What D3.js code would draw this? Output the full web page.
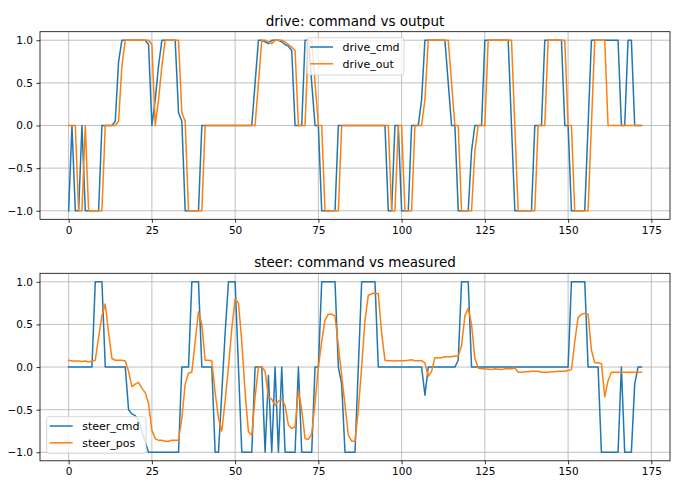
<!DOCTYPE html>
<html>
<head>
<meta charset="utf-8">
<script src="https://cdn.jsdelivr.net/npm/d3@7"></script>
<style>
  html, body { margin: 0; padding: 0; background: #fff; }
  svg { display: block; font-family: "DejaVu Sans", sans-serif; }
</style>
</head>
<body>
<svg id="chart" width="680" height="488"></svg>
<script>
// ---- data ----
const xTicks = [0, 25, 50, 75, 100, 125, 150, 175];
const yTicks = [-1, -0.5, 0, 0.5, 1];

const driveCmd = [
  -1, 0, -1, -1, 0, -1, -1, -1, -1, -1,
  0, 0, 0, 0, 0.05, 0.75, 1, 1, 1, 1,
  1, 1, 1, 1, 0.95, 0, 0.3, 0.7, 1, 1,
  1, 1, 1, 0.15, 0.05, -1, -1, -1, -1, -1,
  0, 0, 0, 0, 0, 0, 0, 0, 0, 0,
  0, 0, 0, 0, 0, 0, 0.5, 1, 1, 0.98,
  0.96, 1, 1, 1, 0.98, 0.95, 0.93, 0.88, 0, 0,
  0, 1, 1, 0.5, 0, 0, -1, -1, -1, -1,
  -1, 0, 0, 0, 0, 0, 0, 0, 0, 0,
  0, 0, 0, 0, 0, 0, -1, -1, 0, 0,
  -1, -1, -1, 0, 0, 0, 0.3, 1, 1, 1,
  1, 1, 1, 1, 0.5, 0, 0, -1, -1, -1,
  -1, -0.3, 0, 0, 0, 1, 1, 1, 1, 1,
  1, 1, 1, 0, -1, -1, -1, -1, -1, -1,
  0, 0, 0, 1, 1, 1, 1, 1, 1, 0,
  0, -1, -1, -1, -1, -1, 0, 1, 1, 1,
  1, 1, 1, 1, 1, 1, 0, 0, 1, 1,
  0, 0, 0
];
const driveOut = [
  0, 0, 0, -1, -1, 0, -1, -1, -1, -1,
  -1, 0, 0, 0, 0, 0.05, 0.7, 1, 1, 1,
  1, 1, 1, 1, 1, 0.95, 0, 0.3, 0.7, 1,
  1, 1, 1, 1, 0.15, 0.05, -1, -1, -1, -1,
  -1, 0, 0, 0, 0, 0, 0, 0, 0, 0,
  0, 0, 0, 0, 0, 0, 0, 0.5, 1, 1,
  0.98, 0.96, 1, 1, 1, 0.98, 0.95, 0.92, 0.88, 0,
  0, 0, 1, 1, 0.5, 0, 0, -1, -1, -1,
  -1, -1, 0, 0, 0, 0, 0, 0, 0, 0,
  0, 0, 0, 0, 0, 0, 0, -1, -1, 0,
  0, -1, -1, -1, 0, 0, 0, 0.3, 1, 1,
  1, 1, 1, 1, 1, 0.5, 0, 0, -1, -1,
  -1, -1, -0.3, 0, 0, 0, 1, 1, 1, 1,
  1, 1, 1, 1, 0, -1, -1, -1, -1, -1,
  -1, 0, 0, 0, 1, 1, 1, 1, 1, 1,
  0, 0, -1, -1, -1, -1, -1, 0, 1, 1,
  1, 1, 0, 0, 0, 0, 0, 0, 0, 0,
  0, 0, 0
];
const steerCmd = [
  0, 0, 0, 0, 0, 0, 0, 0, 1, 1,
  1, 0, 0, 0, 0, 0, 0, 0, -0.5, -0.55,
  -0.57, -0.62, -0.75, -0.88, -1, -1, -1, -1, -1, -1,
  -1, -1, -1, -1, 0, 0, 0, 1, 1, 1,
  0, 0, 0, 0, -1, -1, -0.3, 0.4, 1, 1,
  1, 0, -1, -1, -1, -1, 0, 0, 0, -1,
  -0.1, -1, 0, -1, 0, -1, -1, -1, -1, 0,
  -1, -1, -1, -1, 0, 0, 1, 1, 1, 1,
  1, 0, -0.2, -1, -1, -1, -1, 0, 1, 1,
  1, 1, 1, 0, 0, 0, 0, 0, 0, 0,
  0, 0, 0, 0, 0, 0, 0, -0.33, 0, 0,
  0, 0, 0, 0, 0, 0, 0, 0.08, 1, 1,
  1, 0, 0, 0, 0, 0, 0, 0, 0, 0,
  0, 0, 0, 0, 0, 0, 0, 0, 0, 0,
  0, 0, 0, 0, 0, 0, 0, 0, 0, 0,
  0, 1, 1, 1, 1, 1, 0, 0, 0, 0,
  -1, -1, -1, -1, -1, -1, 0, -1, -1, -1,
  -0.2, 0, 0
];
const steerPos = [
  0.08, 0.07, 0.07, 0.07, 0.065, 0.07, 0.06, 0.07, 0.08, 0.35,
  0.6, 0.74, 0.4, 0.1, 0.08, 0.08, 0.08, 0.07, -0.05, -0.23,
  -0.2, -0.18, -0.25, -0.3, -0.43, -0.74, -0.84, -0.86, -0.86, -0.87,
  -0.87, -0.86, -0.86, -0.86, -0.6, -0.2, -0.07, -0.06, 0.3, 0.65,
  0.5, 0.08, 0.08, 0.07, -0.3, -0.6, -0.75, -0.4, 0.0, 0.45,
  0.8, 0.75, 0.3, -0.3, -0.76, -0.8, -0.35, 0.0, 0.0, -0.05,
  -0.35, -0.38, -0.45, -0.4, -0.38, -0.45, -0.68, -0.72, -0.7, -0.28,
  -0.5, -0.84, -0.85, -0.78, -0.42, 0.0, 0.3, 0.55, 0.62, 0.62,
  0.6, 0.25, -0.1, -0.45, -0.8, -0.87, -0.87, -0.5, 0.0, 0.55,
  0.84, 0.86, 0.87, 0.86, 0.4, 0.08, 0.075, 0.075, 0.07, 0.075,
  0.075, 0.075, 0.08, 0.085, 0.075, 0.075, 0.075, 0.05, -0.11, -0.05,
  0.11, 0.11, 0.11, 0.12, 0.12, 0.12, 0.13, 0.13, 0.25, 0.6,
  0.69, 0.5, 0.1, -0.01, -0.02, -0.02, -0.025, -0.03, -0.02, -0.025,
  -0.03, -0.02, -0.02, -0.02, -0.01, -0.06, -0.06, -0.055, -0.055, -0.05,
  -0.05, -0.05, -0.06, -0.06, -0.06, -0.055, -0.055, -0.05, -0.05, -0.05,
  -0.04, -0.03, 0.3, 0.58, 0.62, 0.63, 0.62, 0.2, 0.05, 0.05,
  0.04, -0.35, -0.16, -0.06, -0.06, -0.06, -0.06, -0.06, -0.06, -0.06,
  -0.06, -0.06, -0.06
];

const panels = [
  { title: "drive: command vs output", top: 31.7, bottom: 219.3,
    series: [{ name: "drive_cmd", values: driveCmd, color: "#1f77b4" },
             { name: "drive_out", values: driveOut, color: "#ff7f0e" }],
    legend: { x: 307, y: 37.7, w: 97, h: 37.3 } },
  { title: "steer: command vs measured", top: 273.3, bottom: 460.8,
    series: [{ name: "steer_cmd", values: steerCmd, color: "#1f77b4" },
             { name: "steer_pos", values: steerPos, color: "#ff7f0e" }],
    legend: { x: 46.7, y: 416.7, w: 99.3, h: 36.6 } }
];

// ---- drawing ----
const svg = d3.select("#chart");
svg.append("rect").attr("width", 680).attr("height", 488).attr("fill", "#fff");

const L = 40, R = 670;
const x = d3.scaleLinear().domain([-8.6, 180.6]).range([L, R]);
const fmtY = d3.format(".1f");

panels.forEach((p, pi) => {
  const y = d3.scaleLinear().domain([-1.1, 1.1]).range([p.bottom, p.top]);
  const g = svg.append("g");
  const clipId = "clip" + pi;
  svg.append("clipPath").attr("id", clipId)
    .append("rect").attr("x", L).attr("y", p.top).attr("width", R - L).attr("height", p.bottom - p.top);

  // grid
  g.append("g").selectAll("line").data(xTicks).join("line")
    .attr("x1", d => x(d)).attr("x2", d => x(d))
    .attr("y1", p.top).attr("y2", p.bottom)
    .attr("stroke", "#b0b0b0").attr("stroke-width", 0.8);
  g.append("g").selectAll("line").data(yTicks).join("line")
    .attr("x1", L).attr("x2", R)
    .attr("y1", d => y(d)).attr("y2", d => y(d))
    .attr("stroke", "#b0b0b0").attr("stroke-width", 0.8);

  // lines
  const line = d3.line().x((d, i) => x(i)).y(d => y(d));
  const lg = g.append("g").attr("clip-path", `url(#${clipId})`);
  p.series.forEach(s => {
    lg.append("path").datum(s.values).attr("d", line)
      .attr("fill", "none").attr("stroke", s.color).attr("stroke-width", 1.5)
      .attr("stroke-linejoin", "round").attr("stroke-linecap", "square");
  });

  // axes
  const ax = g.append("g").attr("transform", `translate(0,${p.bottom})`)
    .call(d3.axisBottom(x).tickValues(xTicks).tickFormat(d3.format("d"))
      .tickSizeInner(3.5).tickSizeOuter(0).tickPadding(3.5));
  const ay = g.append("g").attr("transform", `translate(${L},0)`)
    .call(d3.axisLeft(y).tickValues(yTicks).tickFormat(fmtY)
      .tickSizeInner(3.5).tickSizeOuter(0).tickPadding(3.5));
  [ax, ay].forEach(a => {
    a.select(".domain").remove();
    a.selectAll(".tick line").attr("stroke", "#000").attr("stroke-width", 0.8);
    a.selectAll(".tick text").attr("fill", "#000")
      .style("font-family", "'DejaVu Sans', sans-serif").style("font-size", "10.5px");
  });

  // frame
  g.append("rect").attr("x", L).attr("y", p.top).attr("width", R - L).attr("height", p.bottom - p.top)
    .attr("fill", "none").attr("stroke", "#000").attr("stroke-width", 0.8);

  // title
  g.append("text").attr("x", (L + R) / 2).attr("y", p.top - 6)
    .attr("text-anchor", "middle").attr("fill", "#000")
    .style("font-size", "13.5px").text(p.title);

  // legend
  const lgd = g.append("g");
  lgd.append("rect").attr("x", p.legend.x).attr("y", p.legend.y)
    .attr("width", p.legend.w).attr("height", p.legend.h)
    .attr("rx", 2.5).attr("ry", 2.5)
    .attr("fill", "#fff").attr("fill-opacity", 0.8)
    .attr("stroke", "#cccccc").attr("stroke-width", 0.8);
  p.series.forEach((s, i) => {
    const cy = p.legend.y + 9.3 + i * 16.8;
    lgd.append("line").attr("x1", p.legend.x + 3).attr("x2", p.legend.x + 26)
      .attr("y1", cy).attr("y2", cy).attr("stroke", s.color).attr("stroke-width", 1.5);
    lgd.append("text").attr("x", p.legend.x + 35.5).attr("y", cy + 4)
      .attr("fill", "#000").style("font-size", "11px").text(s.name);
  });
});
</script>
</body>
</html>
